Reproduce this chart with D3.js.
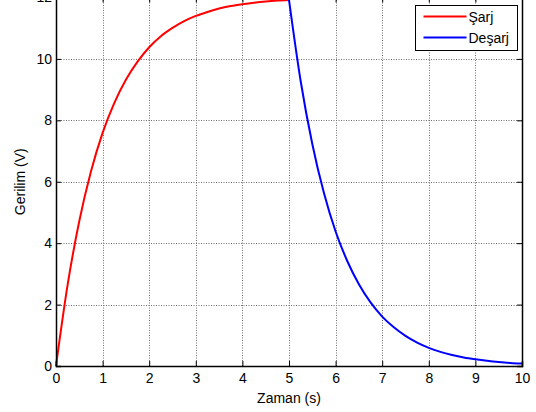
<!DOCTYPE html>
<html>
<head>
<meta charset="utf-8">
<script src="https://cdn.jsdelivr.net/npm/d3@7"></script>
<style>
  html, body { margin: 0; padding: 0; background: #fff; }
  svg { display: block; font-family: "Liberation Sans", Arial, sans-serif; }
  .axis path, .axis line { stroke: #000; }
  .axis text { fill: #000; font-size: 14px; }
</style>
</head>
<body>
<svg id="chart" width="536" height="412"></svg>
<script>
const WIDTH = 536;
const HEIGHT = 412;

// values (time in s, voltage in V)
const chargeTime = [0, 0.25, 0.5, 0.75, 1, 1.25, 1.5, 1.75, 2, 2.25, 2.5, 2.75, 3, 3.25, 3.5, 3.75, 4, 4.25, 4.5, 4.75, 5];
const chargeVolt = [0, 2.65, 4.72, 6.33, 7.59, 8.56, 9.32, 9.91, 10.38, 10.74, 11.01, 11.23, 11.4, 11.53, 11.64, 11.72, 11.78, 11.83, 11.87, 11.9, 11.92];
const dischargeTime = [5, 5.25, 5.5, 5.75, 6, 6.25, 6.5, 6.75, 7, 7.25, 7.5, 7.75, 8, 8.25, 8.5, 8.75, 9, 9.25, 9.5, 9.75, 10];
const dischargeVolt = [11.92, 9.28, 7.23, 5.63, 4.38, 3.42, 2.66, 2.07, 1.61, 1.26, 0.98, 0.76, 0.59, 0.46, 0.36, 0.28, 0.22, 0.17, 0.13, 0.1, 0.08];

const xTicks = [0, 1, 2, 3, 4, 5, 6, 7, 8, 9, 10];
const yTicks = [0, 2, 4, 6, 8, 10, 12];
const seriesNames = ["Şarj", "Deşarj"];
const seriesColors = ["#ff0000", "#0000ff"];

const plot = { left: 56, right: 522, top: -2.5, bottom: 366 };

const svg = d3.select("#chart");
const x = d3.scaleLinear().domain([0, 10]).range([plot.left, plot.right]);
const y = d3.scaleLinear().domain([0, 12]).range([plot.bottom, plot.top]);

svg.append("rect").attr("width", WIDTH).attr("height", HEIGHT).attr("fill", "#fff");

// grid
const grid = svg.append("g").attr("stroke", "#6e6e6e").attr("stroke-width", 1).attr("stroke-dasharray", "1,1.5");
grid.selectAll(".gx").data(xTicks.slice(1, -1)).enter().append("line")
  .attr("x1", (d) => Math.round(x(d)) + 0.5).attr("x2", (d) => Math.round(x(d)) + 0.5)
  .attr("y1", plot.top).attr("y2", plot.bottom);
grid.selectAll(".gy").data(yTicks.slice(1, -1)).enter().append("line")
  .attr("y1", (d) => Math.round(y(d)) + 0.5).attr("y2", (d) => Math.round(y(d)) + 0.5)
  .attr("x1", plot.left).attr("x2", plot.right);

// series
const line = d3.line().x((d) => x(d[0])).y((d) => y(d[1])).curve(d3.curveMonotoneX);
const series = [
  d3.zip(chargeTime, chargeVolt),
  d3.zip(dischargeTime, dischargeVolt)
];
series.forEach((pts, i) => {
  svg.append("path").datum(pts).attr("d", line)
    .attr("fill", "none").attr("stroke", seriesColors[i]).attr("stroke-width", 2);
});

// axes (ticks inside, box style)
svg.append("g").attr("class", "axis").attr("transform", `translate(0,${plot.bottom})`)
  .call(d3.axisBottom(x).tickValues(xTicks).tickSize(-5).tickPadding(7).tickFormat(d3.format("d")))
  .call((g) => g.select(".domain").attr("stroke-width", 1.5));
svg.append("g").attr("class", "axis").attr("transform", `translate(${plot.left},0)`)
  .call(d3.axisLeft(y).tickValues(yTicks).tickSize(-5).tickPadding(4).tickFormat(d3.format("d")))
  .call((g) => g.select(".domain").attr("stroke-width", 1.5));
svg.append("g").attr("class", "axis").attr("transform", `translate(0,${plot.top})`)
  .call(d3.axisTop(x).tickValues(xTicks).tickSize(-5).tickFormat(""));
svg.append("g").attr("class", "axis").attr("transform", `translate(${plot.right},0)`)
  .call(d3.axisRight(y).tickValues(yTicks).tickSize(-5).tickFormat(""))
  .call((g) => g.select(".domain").attr("stroke-width", 1.5));

// axis titles
svg.append("text").attr("x", (plot.left + plot.right) / 2).attr("y", 403)
  .attr("text-anchor", "middle").attr("font-size", 14).text("Zaman (s)");
svg.append("text").attr("transform", `translate(25,${(plot.top + plot.bottom) / 2}) rotate(-90)`)
  .attr("text-anchor", "middle").attr("font-size", 14).text("Gerilim (V)");

// legend
const legend = svg.append("g").attr("transform", "translate(415.5,5.5)");
legend.append("rect").attr("width", 102).attr("height", 45)
  .attr("fill", "#fff").attr("stroke", "#000").attr("stroke-width", 1);
seriesNames.forEach((name, i) => {
  const ly = 11 + i * 21;
  legend.append("line").attr("x1", 8).attr("x2", 51).attr("y1", ly).attr("y2", ly)
    .attr("stroke", seriesColors[i]).attr("stroke-width", 2);
  legend.append("text").attr("x", 53).attr("y", ly + 5).attr("font-size", 14).text(name);
});
</script>
</body>
</html>
